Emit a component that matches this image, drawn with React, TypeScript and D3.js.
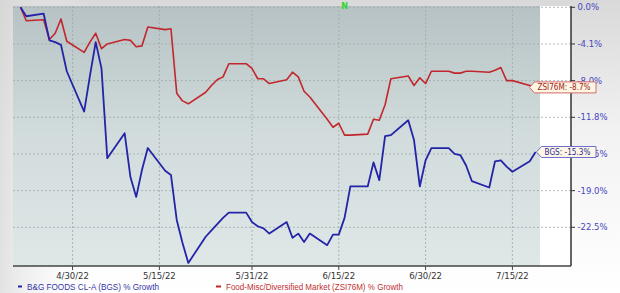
import React from "react";
import * as d3 from "d3";

const dates = ["2022-04-21","2022-04-22","2022-04-25","2022-04-26","2022-04-27","2022-04-28","2022-04-29","2022-05-02","2022-05-03","2022-05-04","2022-05-05","2022-05-06","2022-05-09","2022-05-10","2022-05-11","2022-05-12","2022-05-13","2022-05-16","2022-05-17","2022-05-18","2022-05-19","2022-05-20","2022-05-23","2022-05-24","2022-05-25","2022-05-26","2022-05-27","2022-05-30","2022-05-31","2022-06-01","2022-06-02","2022-06-03","2022-06-06","2022-06-07","2022-06-08","2022-06-09","2022-06-10","2022-06-13","2022-06-14","2022-06-15","2022-06-16","2022-06-17","2022-06-20","2022-06-21","2022-06-22","2022-06-23","2022-06-24","2022-06-27","2022-06-28","2022-06-29","2022-06-30","2022-07-01","2022-07-04","2022-07-05","2022-07-06","2022-07-07","2022-07-08","2022-07-11","2022-07-12","2022-07-13","2022-07-14","2022-07-15","2022-07-18","2022-07-19"];

const bgsValues = [0,-1.0,-0.7,-3.7,-3.9,-4.2,-7.0,-11.2,-7.5,-3.9,-6.7,-15.9,-13.4,-17.7,-19.6,-17.0,-14.9,-17.1,-17.5,-21.8,-24.0,-25.9,-23.4,-22.8,-22.2,-21.6,-21.1,-21.1,-22.0,-22.4,-22.6,-23.1,-22.0,-23.5,-23.1,-23.9,-23.1,-24.2,-23.2,-23.2,-21.6,-18.6,-18.6,-16.3,-18.0,-13.7,-13.6,-12.1,-14.1,-18.6,-16.1,-14.9,-14.9,-15.5,-15.6,-16.6,-18.1,-18.7,-16.2,-16.1,-16.7,-17.2,-16.2,-15.3];

const zsiValues = [0,-1.5,-1.4,-3.6,-2.9,-1.3,-3.8,-5.0,-3.9,-2.9,-4.6,-4.1,-3.6,-3.7,-4.4,-4.3,-2.2,-2.5,-2.4,-9.3,-10.1,-10.4,-9.2,-8.5,-7.9,-7.6,-6.2,-6.2,-6.7,-7.8,-7.8,-8.3,-7.9,-7.1,-7.6,-9.1,-9.7,-12.0,-12.8,-12.4,-13.6,-13.6,-13.5,-12.0,-12.1,-10.5,-7.8,-7.5,-8.5,-7.7,-8.3,-7.0,-7.0,-7.2,-7.2,-7.0,-7.0,-7.1,-6.9,-6.6,-8.0,-8.0,-8.5,-8.7];

const yTickValues = [0, -4.1, -8.0, -11.8, -15.5, -19.0, -22.5];
const yTickLabels = ["0.0%", "-4.1%", "-8.0%", "-11.8%", "-15.5%", "-19.0%", "-22.5%"];
const xTickDates = ["2022-04-30", "2022-05-15", "2022-05-31", "2022-06-15", "2022-06-30", "2022-07-15"];
const xTickLabels = ["4/30/22", "5/15/22", "5/31/22", "6/15/22", "6/30/22", "7/15/22"];

const seriesNames = ["B&G FOODS CL-A (BGS) % Growth", "Food-Misc/Diversified Market (ZSI76M) % Growth"];
const tagLabels = ["BGS: -15.3%", "ZSI76M: -8.7%"];
const newsMarkerDate = "2022-06-16";

const parse = (s: string) => {
  const [y, m, d] = s.split("-").map(Number);
  return new Date(y, m - 1, d);
};

export default function App() {
  const W = 620, H = 293;
  const left = 13, right = 571, top = 6, bottom = 266;
  const yTop = 7.3, yStep = 36.67;

  const x = d3.scaleTime()
    .domain([new Date(2022, 3, 19, 17), new Date(2022, 6, 25, 3)])
    .range([left, right]);
  const y = d3.scaleLinear()
    .domain(yTickValues)
    .range(yTickValues.map((_, i) => yTop + i * yStep));

  const pts = dates.map(parse);
  const line = d3.line<number>()
    .x((_, i) => x(pts[i]))
    .y((v) => y(v));

  const lastX = x(pts[pts.length - 1]);
  const shadeRight = lastX + 4.5;

  const blue = "#2424a8";
  const red = "#c1272d";
  const font = "DejaVu Sans, Verdana, sans-serif";

  const tag = (tipX: number, tipY: number, text: string, tw: number, stroke: string, color: string) => {
    const rightEdge = 596;
    const textStart = rightEdge - 5.5 - tw;
    const boxLeft = textStart - 3;
    const tip = boxLeft - 5;
    const h = 5.5;
    const path = `M${tip},${tipY} L${boxLeft},${tipY - h} L${rightEdge},${tipY - h} L${rightEdge},${tipY + h} L${boxLeft},${tipY + h} Z`;
    return (
      <g>
        <path d={path} fill="#fdf7e3" stroke={stroke} strokeWidth={1} />
        <text x={textStart} y={tipY + 3} fontFamily={font} fontSize={8} fill={color}
          textLength={tw} lengthAdjust="spacingAndGlyphs">{text}</text>
      </g>
    );
  };

  return (
    <svg width={W} height={H} style={{ position: "absolute", left: 0, top: 0 }}>
      <defs>
        <linearGradient id="bg" x1="0" y1="0" x2="0" y2="1">
          <stop offset="0" stopColor="#d9d9d9" />
          <stop offset="0.45" stopColor="#f2f2f2" />
          <stop offset="1" stopColor="#ffffff" />
        </linearGradient>
        <linearGradient id="bgL" x1="0" y1="0" x2="1" y2="0">
          <stop offset="0" stopColor="#d6d6d6" stopOpacity="0.7" />
          <stop offset="0.15" stopColor="#ffffff" stopOpacity="0" />
        </linearGradient>
        <linearGradient id="plot" x1="0" y1="0" x2="0" y2="1">
          <stop offset="0" stopColor="#b6c2c4" />
          <stop offset="0.5" stopColor="#d2dcdc" />
          <stop offset="1" stopColor="#dfe7e7" />
        </linearGradient>
      </defs>
      <rect x={0} y={0} width={W} height={H} fill="url(#bg)" />
      <rect x={0} y={0} width={W} height={H} fill="url(#bgL)" />
      <rect x={left} y={top} width={right - left} height={bottom - top} fill="#ffffff" />
      <rect x={left} y={top} width={shadeRight - left} height={bottom - top} fill="url(#plot)" />

      {/* grid */}
      {yTickValues.map((v, i) => (
        <line key={"gy" + i} x1={left} x2={right} y1={y(v)} y2={y(v)}
          stroke="#9ea8aa" strokeWidth={0.8} strokeDasharray="2,2" />
      ))}
      {xTickDates.map((d, i) => (
        <line key={"gx" + i} x1={x(parse(d))} x2={x(parse(d))} y1={top} y2={bottom}
          stroke="#9ea8aa" strokeWidth={0.8} strokeDasharray="2,2" />
      ))}

      {/* lines */}
      <path d={line(zsiValues) || ""} fill="none" stroke={red} strokeWidth={1.6} strokeLinejoin="round" />
      <path d={line(bgsValues) || ""} fill="none" stroke={blue} strokeWidth={1.8} strokeLinejoin="round" />

      {/* news marker */}
      <text x={x(parse(newsMarkerDate))} y={9} textAnchor="middle" fontFamily={font} fontSize={8}
        fontWeight="bold" fill="#2fd42f">N</text>

      {/* axes */}
      <line x1={left} x2={right} y1={bottom} y2={bottom} stroke="#444" strokeWidth={1.5} />
      <line x1={right} x2={right} y1={top} y2={bottom} stroke="#333" strokeWidth={1.5} />
      {yTickValues.map((v, i) => (
        <g key={"ty" + i}>
          <line x1={right} x2={right + 4} y1={y(v)} y2={y(v)} stroke="#333" strokeWidth={1} />
          <text x={577.5} y={y(v) + 3} fontFamily={font} fontSize={8.5} fill="#4646c0">{yTickLabels[i]}</text>
        </g>
      ))}
      {xTickDates.map((d, i) => (
        <g key={"tx" + i}>
          <line x1={x(parse(d))} x2={x(parse(d))} y1={bottom} y2={bottom + 4} stroke="#444" strokeWidth={1} />
          <text x={x(parse(d))} y={278.5} textAnchor="middle" fontFamily={font} fontSize={8.5} fill="#333">{xTickLabels[i]}</text>
        </g>
      ))}

      {/* tags */}
      {tag(lastX, y(zsiValues[zsiValues.length - 1]), tagLabels[1], 53, "#d46a6a", "#a32020")}
      {tag(lastX, y(bgsValues[bgsValues.length - 1]), tagLabels[0], 46, "#6f6fd0", "#2c2c9c")}

      {/* legend */}
      <line x1={18} x2={22} y1={286.5} y2={286.5} stroke={blue} strokeWidth={2} />
      <text x={27} y={289.5} fontFamily="Liberation Sans, Arial, sans-serif" fontSize={8.5} fill="#3535a8"
        textLength={132} lengthAdjust="spacingAndGlyphs">{seriesNames[0]}</text>
      <line x1={216} x2={221} y1={286.5} y2={286.5} stroke={red} strokeWidth={2} />
      <text x={226} y={289.5} fontFamily="Liberation Sans, Arial, sans-serif" fontSize={8.5} fill="#c03030"
        textLength={177} lengthAdjust="spacingAndGlyphs">{seriesNames[1]}</text>
    </svg>
  );
}
